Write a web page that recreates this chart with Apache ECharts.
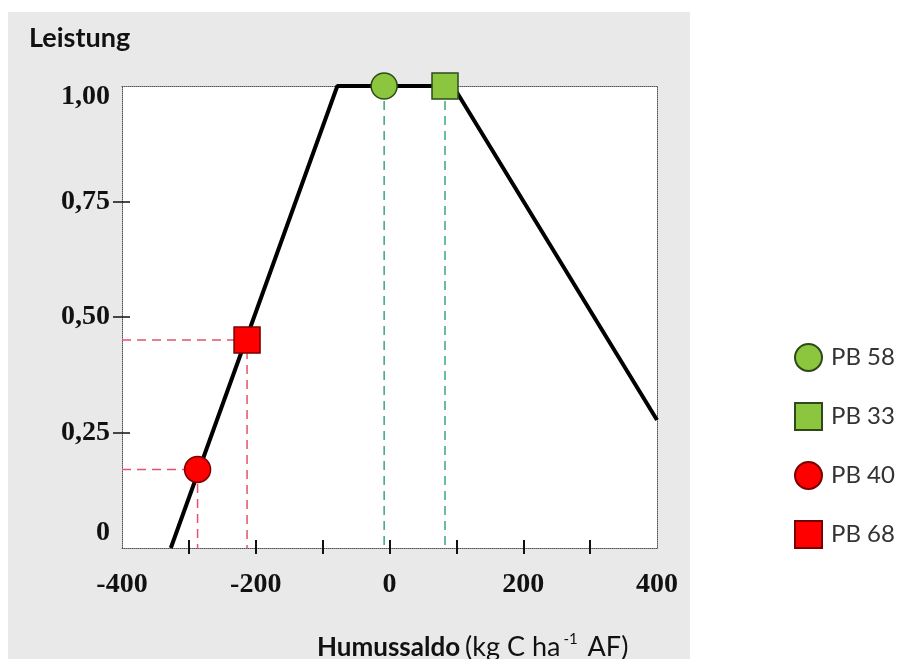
<!DOCTYPE html>
<html>
<head>
<meta charset="utf-8">
<script src="https://cdn.jsdelivr.net/npm/echarts@6/dist/echarts.min.js"></script>
<style>
html,body{margin:0;padding:0;background:#fff;}
#c{width:912px;height:659px;}
</style>
</head>
<body>
<div id="c"></div>
<script>
// ---- data ----
const xLabelValues = [-400, -200, 0, 200, 400];
const xTickValues = [-300, -200, -100, 0, 100, 200, 300];
const yLabelValues = [0, 0.25, 0.5, 0.75, 1];
const yTickValues = [0.25, 0.5, 0.75];
const curveX = [-327, -78, 95, 400];
const curveY = [0, 1, 1, 0.277];
const pointNames = ['PB 58', 'PB 33', 'PB 40', 'PB 68'];
const pointX = [-8, 83, -287, -213];
const pointY = [1, 1, 0.17, 0.45];

// ---- styles ----
const pointStyles = [
  {symbol: 'circle', fill: '#8cc63f', border: '#2e4a1a', guide: '#3aa57c'},
  {symbol: 'rect', fill: '#8cc63f', border: '#2e4a1a', guide: '#3aa57c'},
  {symbol: 'circle', fill: '#ff0000', border: '#7a0000', guide: '#e8506e'},
  {symbol: 'rect', fill: '#ff0000', border: '#7a0000', guide: '#e8506e'}
];
const X_MIN = -400, X_MAX = 400;
const labelFont = {fontFamily: 'Liberation Serif', fontWeight: 'bold', fontSize: 28, color: '#111'};

const series = [];
series.push({
  type: 'line', name: 'curve', data: curveX.map((x, i) => [x, curveY[i]]),
  showSymbol: false, symbol: 'none', lineStyle: {color: '#000', width: 4}, z: 3,
  silent: true
});
pointNames.forEach((n, i) => {
  const st = pointStyles[i];
  const guide = [];
  if (pointY[i] < 1) { guide.push([X_MIN, pointY[i]]); }
  guide.push([pointX[i], pointY[i]]);
  guide.push([pointX[i], 0]);
  series.push({
    type: 'line', name: n + '_guide', data: guide, symbol: 'none', z: 2, silent: true,
    lineStyle: {color: st.guide, width: 1.5, type: [9, 6]}
  });
});
pointNames.forEach((n, i) => {
  const st = pointStyles[i];
  series.push({
    type: 'scatter', name: n, data: [[pointX[i], pointY[i]]],
    symbol: st.symbol, symbolSize: 26, z: 5,
    itemStyle: {color: st.fill, borderColor: st.border, borderWidth: 1.5, opacity: 1}
  });
});

const chart = echarts.init(document.getElementById('c'), null, {renderer: 'canvas'});
const gridPos = {left: 122, right: 255, top: 86, bottom: 111};
chart.setOption({
  animation: false,
  backgroundColor: '#fff',
  graphic: [{
    type: 'rect', z: -10, silent: true,
    shape: {x: 8, y: 12, width: 682, height: 660},
    style: {fill: '#e9e9e9'}
  }],
  title: [
    {text: 'Leistung', left: 24, top: 20,
     textStyle: {fontFamily: 'Lato', fontWeight: 'bold', fontSize: 27, color: '#111'}},
    {text: '{b|Humussaldo} {n|(kg C ha}{s|-1}{n| AF)}', left: 312, top: 627,
     textStyle: {fontWeight: 'normal', rich: {
       b: {fontFamily: 'Lato', fontWeight: 'bold', fontSize: 26, color: '#111'},
       n: {fontFamily: 'Lato', fontWeight: 'normal', fontSize: 27, color: '#111'},
       s: {fontFamily: 'Lato', fontWeight: 'normal', fontSize: 15, color: '#111', padding: [0, 3, 16, 3]}
     }}}
  ],
  legend: {
    orient: 'vertical', left: 794, top: 343, padding: 0,
    itemWidth: 27, itemHeight: 27, itemGap: 30,
    data: pointNames,
    textStyle: {fontFamily: 'Lato', fontSize: 24, color: '#333', padding: [0, 0, 0, 4]}
  },
  grid: Object.assign({show: true, backgroundColor: '#fff', borderWidth: 0}, gridPos),
  xAxis: [
    {type: 'value', min: X_MIN, max: X_MAX, position: 'bottom',
     axisLine: {show: true, onZero: false, lineStyle: {color: '#555', type: 'dotted', width: 1}},
     axisTick: {show: true, inside: false, length: 6, customValues: xTickValues, lineStyle: {color: '#111', width: 2}},
     axisLabel: {show: true, margin: 23, customValues: xLabelValues, ...labelFont},
     splitLine: {show: false}},
    {type: 'value', min: X_MIN, max: X_MAX, position: 'top',
     axisLine: {show: true, onZero: false, lineStyle: {color: '#555', type: 'dotted', width: 1}},
     axisTick: {show: false}, axisLabel: {show: false}, splitLine: {show: false}},
    {type: 'value', min: X_MIN, max: X_MAX, position: 'bottom',
     axisLine: {show: false, onZero: false},
     axisTick: {show: true, inside: true, length: 8, customValues: xTickValues, lineStyle: {color: '#111', width: 2}},
     axisLabel: {show: false}, splitLine: {show: false}}
  ],
  yAxis: [
    {type: 'value', min: 0, max: 1, position: 'left',
     axisLine: {show: true, onZero: false, lineStyle: {color: '#555', type: 'dotted', width: 1}},
     axisTick: {show: true, inside: false, length: 9, customValues: yTickValues, lineStyle: {color: '#111', width: 1.5}},
     axisLabel: {show: true, margin: 12, customValues: yLabelValues, ...labelFont,
       formatter: v => v === 0 ? '{lo|0}' : (v === 1 ? '{hi|1,00}' : v.toFixed(2).replace('.', ',')),
       rich: {
         lo: {...labelFont, padding: [0, 0, 30, 0]},
         hi: {...labelFont, padding: [22, 0, 0, 0]}
       }},
     splitLine: {show: false}},
    {type: 'value', min: 0, max: 1, position: 'right',
     axisLine: {show: true, onZero: false, lineStyle: {color: '#555', type: 'dotted', width: 1}},
     axisTick: {show: false}, axisLabel: {show: false}, splitLine: {show: false}},
    {type: 'value', min: 0, max: 1, position: 'left',
     axisLine: {show: false, onZero: false},
     axisTick: {show: true, inside: true, length: 8, customValues: yTickValues, lineStyle: {color: '#111', width: 1.5}},
     axisLabel: {show: false}, splitLine: {show: false}}
  ],
  series: series
});
</script>
</body>
</html>
